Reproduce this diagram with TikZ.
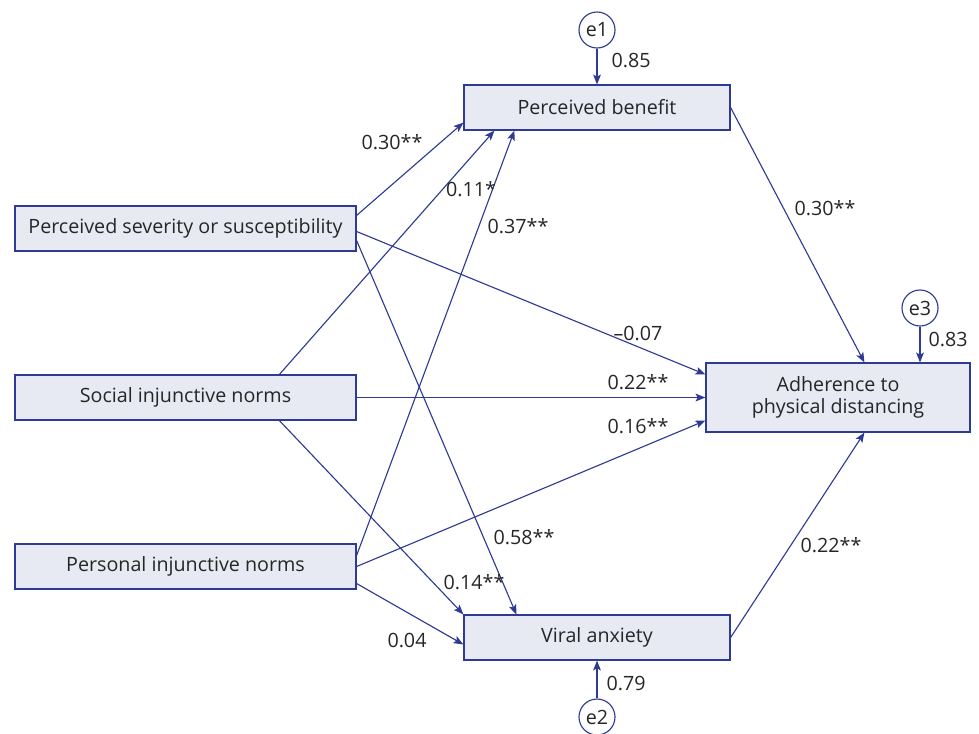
\documentclass[tikz,border=0pt]{standalone}
\usepackage{fontspec}
\setmainfont{Open Sans}
\usepackage{tikz}
\usetikzlibrary{arrows.meta,calc}
\definecolor{semblue}{HTML}{2E3A94}
\definecolor{semfill}{HTML}{E7EAF2}
\definecolor{semtext}{HTML}{262626}
\tikzset{
  box/.style={draw=semblue,fill=semfill,line width=0.8pt,align=center,text=semtext,inner sep=2pt},
  exo/.style={box,minimum width=8.525cm,minimum height=1.125cm},
  med/.style={box,minimum width=6.65cm,minimum height=1.125cm},
  errc/.style={circle,draw=semblue,fill=white,line width=0.8pt,minimum size=0.9cm,inner sep=0pt,text=semtext},
  ar/.style={-{Stealth[length=7pt,width=5.5pt,inset=1.5pt]},draw=semblue,line width=0.8pt},
  coef/.style={text=semtext,inner sep=1pt},
}

\begin{document}
\begin{tikzpicture}[x=0.025cm,y=-0.025cm,font=\fontsize{14}{16}\selectfont]
\useasboundingbox (0,0) rectangle (979,733);
% predictors
\foreach \n/\y/\t in {ps/228.5/{Perceived severity or susceptibility}, si/397.5/{Social injunctive norms}, pi/566.5/{Personal injunctive norms}} {
  \node[exo] (\n) at (185.5,\y) {\t};
}
% mediators, outcome
\node[med] (pb) at (597,107.5) {Perceived benefit};
\node[med] (va) at (597,637.5) {Viral anxiety};
\node[box,minimum width=6.6cm,minimum height=1.725cm] (ad) at (838,397.5) {Adherence to\\physical distancing};
% error terms
\node[errc] (e1) at (597,30) {e1};
\node[errc] (e2) at (597,717) {e2};
\node[errc] (e3) at (920,308) {e3};
\draw[ar] (e1) -- (pb);
\draw[ar] (e2) -- (va);
\draw[ar] (e3) -- (e3 |- ad.north);
% paths to perceived benefit
\draw[ar] ($(ps.north east)+(0,10)$) -- ($(pb.south west)+(0,-8)$);
\draw[ar] ($(si.north west)+(265,0)$) -- ($(pb.south west)+(31,0)$);
\draw[ar] ($(pi.east)+(0,-11)$) -- ($(pb.south west)+(51,0)$);
% paths to adherence
\draw[ar] ($(ps.east)+(0,3)$) -- ($(ad.north west)+(0,12)$);
\draw[ar] (si.east) -- (ad.west);
\draw[ar] (pi.east) -- ($(ad.south west)+(0,-12)$);
\draw[ar] (pb.east) -- ($(ad.north west)+(159,0)$);
\draw[ar] (va.east) -- ($(ad.south west)+(159,0)$);
% paths to viral anxiety
\draw[ar] ($(ps.east)+(0,12)$) -- ($(va.north west)+(53,0)$);
\draw[ar] ($(si.south west)+(265,0)$) -- (va.north west);
\draw[ar] ($(pi.east)+(0,17)$) -- ($(va.west)+(0,7)$);
% coefficients
\node[coef] (c1) at (631,60) {0.85};
\node[coef] (c2) at (626,683) {0.79};
\node[coef] (c3) at (948,339) {0.83};
\node[coef] (c4) at (392,142) {0.30**};
\node[coef] (c5) at (471,189) {0.11*};
\node[coef] (c6) at (518,226) {0.37**};
\node[coef] (c7) at (825,208) {0.30**};
\node[coef] (c8) at (638,333) {–0.07};
\node[coef] (c9) at (638,382) {0.22**};
\node[coef] (c10) at (638,426) {0.16**};
\node[coef] (c11) at (524,537) {0.58**};
\node[coef] (c12) at (474,582) {0.14**};
\node[coef] (c13) at (407,640) {0.04};
\node[coef] (c14) at (831,545) {0.22**};
\end{tikzpicture}
\end{document}
